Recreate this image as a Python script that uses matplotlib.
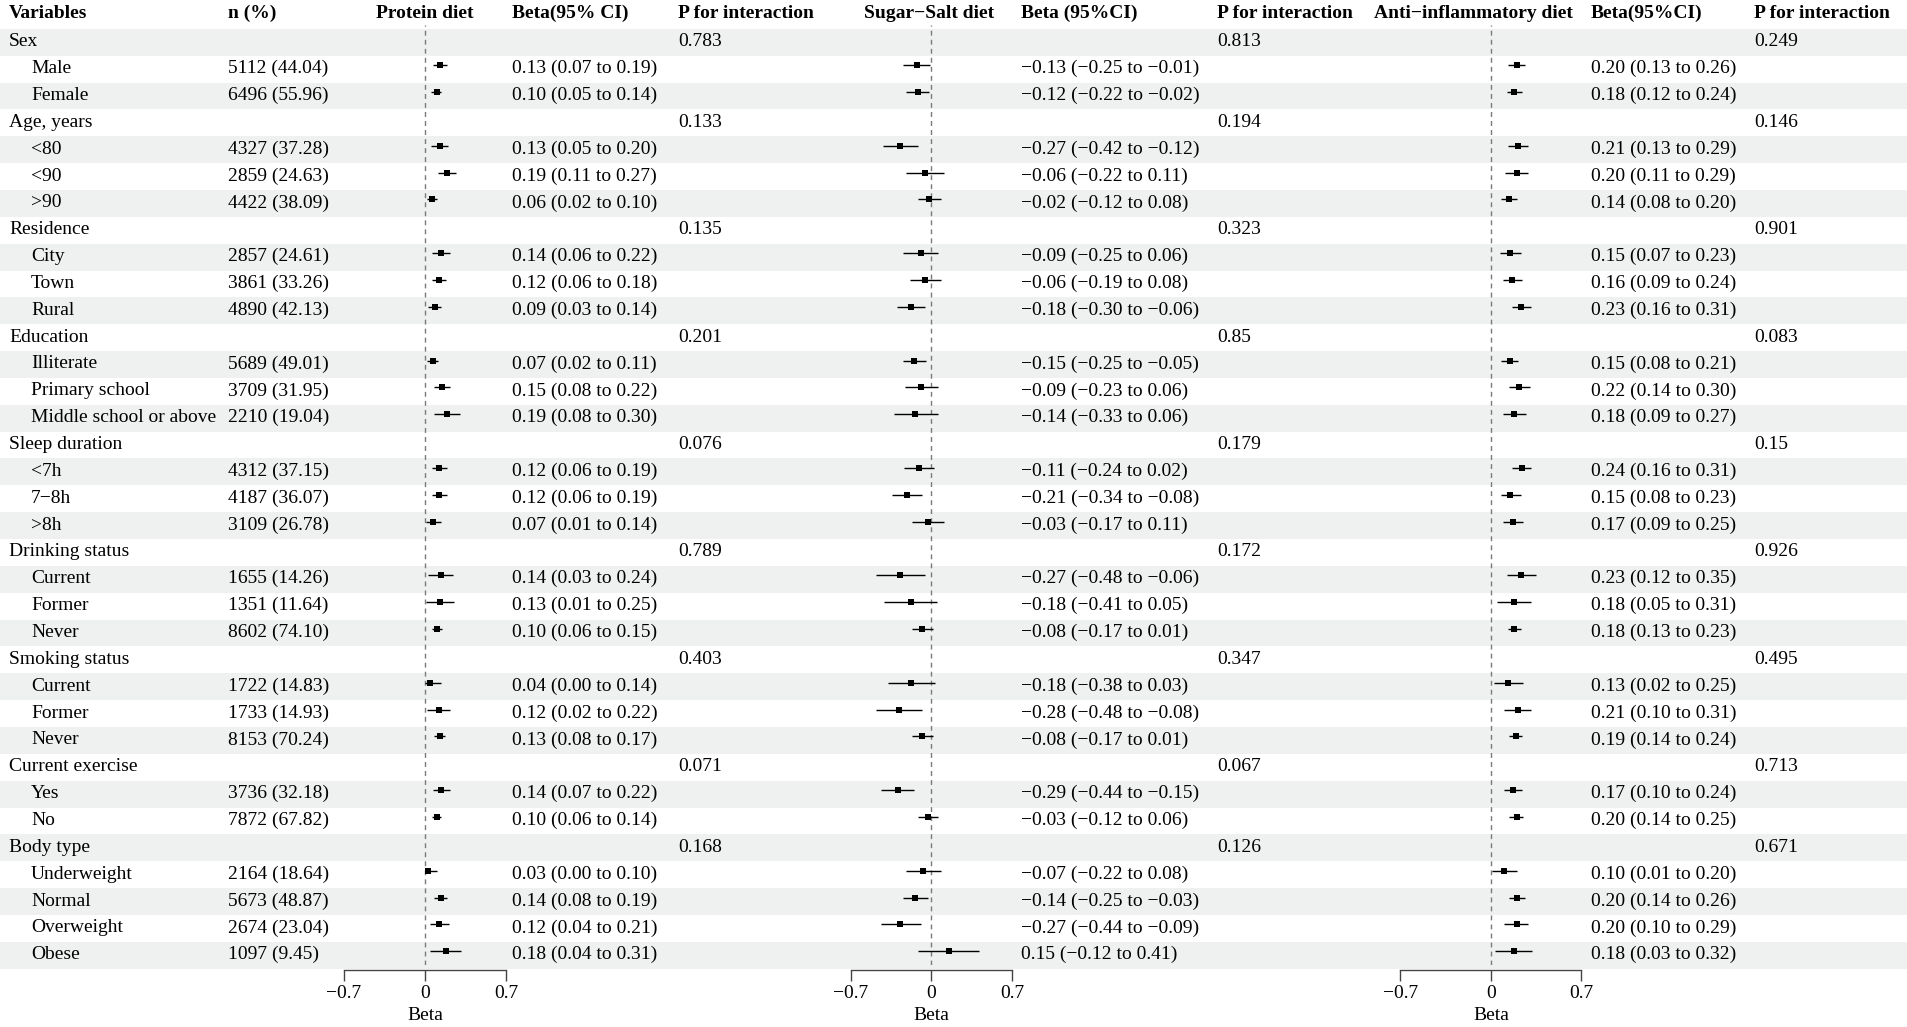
import numpy as np
import matplotlib
matplotlib.use("Agg")
import matplotlib.pyplot as plt

plt.rcParams['font.family'] = ['Liberation Serif', 'DejaVu Serif']
plt.rcParams['font.size'] = 14
plt.rcParams['axes.unicode_minus'] = True

nan = np.nan

variables = ["Sex", "Male", "Female",
             "Age, years", "<80", "<90", ">90",
             "Residence", "City", "Town", "Rural",
             "Education", "Illiterate", "Primary school", "Middle school or above",
             "Sleep duration", "<7h", "7\u22128h", ">8h",
             "Drinking status", "Current", "Former", "Never",
             "Smoking status", "Current", "Former", "Never",
             "Current exercise", "Yes", "No",
             "Body type", "Underweight", "Normal", "Overweight", "Obese"]

n_pct = ["", "5112 (44.04)", "6496 (55.96)",
         "", "4327 (37.28)", "2859 (24.63)", "4422 (38.09)",
         "", "2857 (24.61)", "3861 (33.26)", "4890 (42.13)",
         "", "5689 (49.01)", "3709 (31.95)", "2210 (19.04)",
         "", "4312 (37.15)", "4187 (36.07)", "3109 (26.78)",
         "", "1655 (14.26)", "1351 (11.64)", "8602 (74.10)",
         "", "1722 (14.83)", "1733 (14.93)", "8153 (70.24)",
         "", "3736 (32.18)", "7872 (67.82)",
         "", "2164 (18.64)", "5673 (48.87)", "2674 (23.04)", "1097 (9.45)"]

# Protein diet
protein_est = [nan, 0.13, 0.10, nan, 0.13, 0.19, 0.06, nan, 0.14, 0.12, 0.09,
               nan, 0.07, 0.15, 0.19, nan, 0.12, 0.12, 0.07, nan, 0.14, 0.13, 0.10,
               nan, 0.04, 0.12, 0.13, nan, 0.14, 0.10, nan, 0.03, 0.14, 0.12, 0.18]
protein_lo = [nan, 0.07, 0.05, nan, 0.05, 0.11, 0.02, nan, 0.06, 0.06, 0.03,
              nan, 0.02, 0.08, 0.08, nan, 0.06, 0.06, 0.01, nan, 0.03, 0.01, 0.06,
              nan, 0.00, 0.02, 0.08, nan, 0.07, 0.06, nan, 0.00, 0.08, 0.04, 0.04]
protein_hi = [nan, 0.19, 0.14, nan, 0.20, 0.27, 0.10, nan, 0.22, 0.18, 0.14,
              nan, 0.11, 0.22, 0.30, nan, 0.19, 0.19, 0.14, nan, 0.24, 0.25, 0.15,
              nan, 0.14, 0.22, 0.17, nan, 0.22, 0.14, nan, 0.10, 0.19, 0.21, 0.31]
protein_p = ["0.783", "0.133", "0.135", "0.201", "0.076", "0.789", "0.403", "0.071", "0.168"]

# Sugar-Salt diet
sugar_est = [nan, -0.13, -0.12, nan, -0.27, -0.06, -0.02, nan, -0.09, -0.06, -0.18,
             nan, -0.15, -0.09, -0.14, nan, -0.11, -0.21, -0.03, nan, -0.27, -0.18, -0.08,
             nan, -0.18, -0.28, -0.08, nan, -0.29, -0.03, nan, -0.07, -0.14, -0.27, 0.15]
sugar_lo = [nan, -0.25, -0.22, nan, -0.42, -0.22, -0.12, nan, -0.25, -0.19, -0.30,
            nan, -0.25, -0.23, -0.33, nan, -0.24, -0.34, -0.17, nan, -0.48, -0.41, -0.17,
            nan, -0.38, -0.48, -0.17, nan, -0.44, -0.12, nan, -0.22, -0.25, -0.44, -0.12]
sugar_hi = [nan, -0.01, -0.02, nan, -0.12, 0.11, 0.08, nan, 0.06, 0.08, -0.06,
            nan, -0.05, 0.06, 0.06, nan, 0.02, -0.08, 0.11, nan, -0.06, 0.05, 0.01,
            nan, 0.03, -0.08, 0.01, nan, -0.15, 0.06, nan, 0.08, -0.03, -0.09, 0.41]
sugar_p = ["0.813", "0.194", "0.323", "0.85", "0.179", "0.172", "0.347", "0.067", "0.126"]

# Anti-inflammatory diet
anti_est = [nan, 0.20, 0.18, nan, 0.21, 0.20, 0.14, nan, 0.15, 0.16, 0.23,
            nan, 0.15, 0.22, 0.18, nan, 0.24, 0.15, 0.17, nan, 0.23, 0.18, 0.18,
            nan, 0.13, 0.21, 0.19, nan, 0.17, 0.20, nan, 0.10, 0.20, 0.20, 0.18]
anti_lo = [nan, 0.13, 0.12, nan, 0.13, 0.11, 0.08, nan, 0.07, 0.09, 0.16,
           nan, 0.08, 0.14, 0.09, nan, 0.16, 0.08, 0.09, nan, 0.12, 0.05, 0.13,
           nan, 0.02, 0.10, 0.14, nan, 0.10, 0.14, nan, 0.01, 0.14, 0.10, 0.03]
anti_hi = [nan, 0.26, 0.24, nan, 0.29, 0.29, 0.20, nan, 0.23, 0.24, 0.31,
           nan, 0.21, 0.30, 0.27, nan, 0.31, 0.23, 0.25, nan, 0.35, 0.31, 0.23,
           nan, 0.25, 0.31, 0.24, nan, 0.24, 0.25, nan, 0.20, 0.26, 0.29, 0.32]
anti_p = ["0.249", "0.146", "0.901", "0.083", "0.15", "0.926", "0.495", "0.713", "0.671"]

tick_vals = [-0.7, 0, 0.7]
tick_labels = ["\u22120.7", "0", "0.7"]

# ---------------- layout (pixels) ----------------
W, H = 1908, 1027
pitch = 26.85
row0 = 42.3
shift = 4.0
shade = "#eef1f0"

fig = plt.figure(figsize=(W / 100, H / 100), dpi=100)
bg = fig.add_axes([0, 0, 1, 1])
bg.set_xlim(0, W)
bg.set_ylim(H, 0)
bg.axis('off')

nrow = len(variables)
is_group = [s == "" for s in n_pct]
for i in range(nrow):
    if i % 2 == 0:
        bg.axhspan(row0 + (i - 0.5) * pitch, row0 + (i + 0.5) * pitch,
                   color=shade, lw=0, zorder=0)


def fmt(v):
    return f"{v:.2f}".replace("-", "\u2212")


def ty(i):
    return row0 + i * pitch - 0.5


header_y = 13
headers = [(9, "Variables"), (228, "n (%)"), (376, "Protein diet"),
           (512, "Beta(95% CI)"), (678, "P for interaction"),
           (864, "Sugar\u2212Salt diet"), (1021, "Beta (95%CI)"),
           (1217, "P for interaction"), (1374, "Anti\u2212inflammatory diet"),
           (1591, "Beta(95%CI)"), (1754, "P for interaction")]
for x, s in headers:
    bg.text(x, header_y, s, fontweight='bold', va='center', ha='left')

panels = [
    dict(est=protein_est, lo=protein_lo, hi=protein_hi, p=protein_p,
         cx=425, hw=81, ci_x=512, p_x=678, ms=4.2),
    dict(est=sugar_est, lo=sugar_lo, hi=sugar_hi, p=sugar_p,
         cx=931.5, hw=80.5, ci_x=1021, p_x=1217, ms=4.9),
    dict(est=anti_est, lo=anti_lo, hi=anti_hi, p=anti_p,
         cx=1491, hw=90.5, ci_x=1591, p_x=1754, ms=4.6),
]

group_rows = [i for i in range(nrow) if is_group[i]]
for i in range(nrow):
    if is_group[i]:
        bg.text(9, ty(i), variables[i], va='center', ha='left')
    else:
        bg.text(31, ty(i), variables[i], va='center', ha='left')
        bg.text(228, ty(i), n_pct[i], va='center', ha='left')

for pan in panels:
    for k, r in enumerate(group_rows):
        bg.text(pan['p_x'], ty(r), pan['p'][k], va='center', ha='left')
    for i in range(nrow):
        if not is_group[i]:
            s = f"{fmt(pan['est'][i])} ({fmt(pan['lo'][i])} to {fmt(pan['hi'][i])})"
            bg.text(pan['ci_x'], ty(i), s, va='center', ha='left')

    top = row0 - 0.5 * pitch - shift
    bottom = row0 + (nrow - 0.5) * pitch - shift
    ax = fig.add_axes([(pan['cx'] - pan['hw']) / W, (H - bottom) / H,
                       2 * pan['hw'] / W, (bottom - top) / H])
    ax.patch.set_alpha(0)
    ax.set_xlim(-0.7, 0.7)
    ax.set_ylim(nrow - 0.5, -0.5)
    for sp in ['top', 'left', 'right']:
        ax.spines[sp].set_visible(False)
    ax.spines['bottom'].set_position(('outward', (shift + 1.5) * 0.72))
    ax.spines['bottom'].set_linewidth(1.0)
    ax.spines['bottom'].set_color('#444444')
    ax.axvline(0, color='#7a7a7a', lw=1.0, dashes=(3.5, 3))
    rows = np.arange(nrow)
    est = np.array(pan['est'], dtype=float)
    lo = np.array(pan['lo'], dtype=float)
    hi = np.array(pan['hi'], dtype=float)
    ax.hlines(rows, lo, hi, color='black', lw=1.0)
    ax.plot(est, rows, 's', color='black', ms=pan['ms'], mew=0)
    ax.set_yticks([])
    ax.set_xticks(tick_vals)
    ax.set_xticklabels(tick_labels)
    ax.tick_params(axis='x', length=8, width=1.0, color='#444444', pad=3)
    ax.set_xlabel("Beta", labelpad=3)

fig.savefig("out.png", dpi=100)
